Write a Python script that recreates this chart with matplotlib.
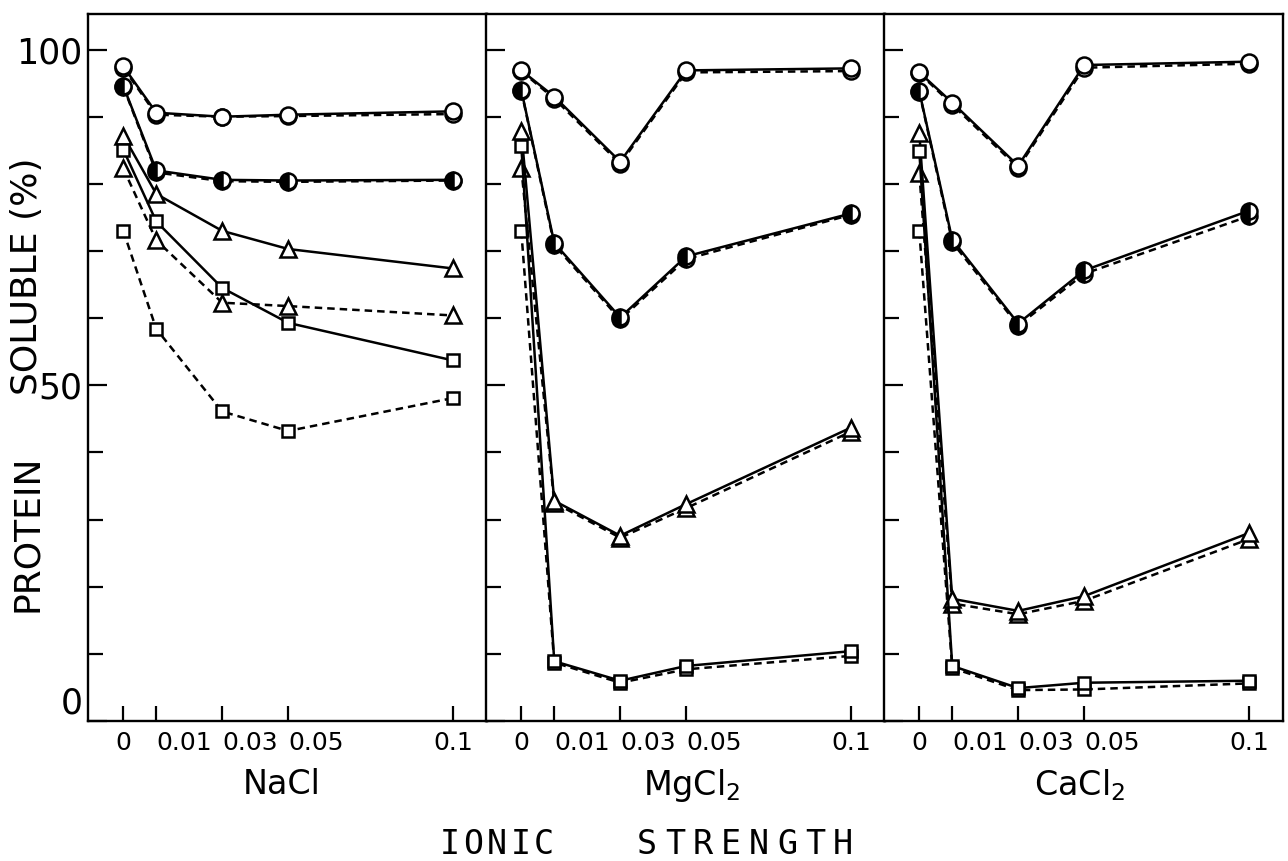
import matplotlib.pyplot as plt

# ionic strength values on the x axis
ionic = [0, 0.01, 0.03, 0.05, 0.1]
tick_text = ["0", "0.01", "0.03", "0.05", "0.1"]
salts = ["NaCl", "MgCl$_2$", "CaCl$_2$"]

# NaCl panel (solid / dashed curves)
nacl_open_solid = [97.5, 90.6, 90.0, 90.3, 90.8]
nacl_open_dash = [97.3, 90.3, 90.0, 90.1, 90.4]
nacl_half_solid = [94.6, 82.0, 80.6, 80.5, 80.6]
nacl_half_dash = [94.5, 81.7, 80.4, 80.3, 80.5]
nacl_tri_solid = [87.2, 78.5, 73.0, 70.3, 67.4]
nacl_tri_dash = [82.3, 71.6, 62.3, 61.8, 60.4]
nacl_sq_solid = [85.1, 74.4, 64.5, 59.3, 53.7]
nacl_sq_dash = [73.0, 58.4, 46.1, 43.2, 48.1]

# MgCl2 panel
mg_open_solid = [96.9, 93.0, 83.3, 96.9, 97.2]
mg_open_dash = [96.8, 92.7, 83.0, 96.6, 96.8]
mg_half_solid = [94.0, 71.2, 60.1, 69.2, 75.6]
mg_half_dash = [93.9, 70.9, 59.8, 68.8, 75.4]
mg_tri_solid = [87.9, 32.8, 27.6, 32.3, 43.7]
mg_tri_dash = [82.4, 32.5, 27.3, 31.7, 43.1]
mg_sq_solid = [85.7, 8.9, 6.0, 8.2, 10.4]
mg_sq_dash = [73.0, 8.7, 5.7, 7.7, 9.7]

# CaCl2 panel
ca_open_solid = [96.6, 92.1, 82.7, 97.7, 98.2]
ca_open_dash = [96.5, 91.8, 82.4, 97.3, 97.9]
ca_half_solid = [93.8, 71.7, 59.2, 67.1, 76.0]
ca_half_dash = [93.7, 71.3, 58.9, 66.6, 75.2]
ca_tri_solid = [87.6, 18.2, 16.4, 18.6, 28.0]
ca_tri_dash = [81.6, 17.5, 15.9, 17.9, 27.1]
ca_sq_solid = [84.9, 8.2, 4.9, 5.7, 6.0]
ca_sq_dash = [73.0, 7.9, 4.6, 4.7, 5.6]

panels = [
    [nacl_open_solid, nacl_open_dash, nacl_half_solid, nacl_half_dash,
     nacl_tri_solid, nacl_tri_dash, nacl_sq_solid, nacl_sq_dash],
    [mg_open_solid, mg_open_dash, mg_half_solid, mg_half_dash,
     mg_tri_solid, mg_tri_dash, mg_sq_solid, mg_sq_dash],
    [ca_open_solid, ca_open_dash, ca_half_solid, ca_half_dash,
     ca_tri_solid, ca_tri_dash, ca_sq_solid, ca_sq_dash],
]

narrow = ["Liberation Sans Narrow", "DejaVu Sans"]

W, H = 1288, 861
fig = plt.figure(figsize=(W / 100, H / 100), dpi=100)

lefts = [88, 486, 884]
bottom_px, top_px, width_px = 721, 14, 399

marker_styles = [
    dict(marker="o", markersize=11.5, markerfacecolor="white"),
    dict(marker="o", markersize=11.5, markerfacecolor="black",
         markerfacecoloralt="white", fillstyle="left"),
    dict(marker="^", markersize=11.5, markerfacecolor="white"),
    dict(marker="s", markersize=9, markerfacecolor="white"),
]

for i, series in enumerate(panels):
    ax = fig.add_axes([lefts[i] / W, 1 - bottom_px / H, width_px / W,
                       (bottom_px - top_px) / H])
    for k, vals in enumerate(series):
        style = marker_styles[k // 2]
        ls = "-" if k % 2 == 0 else (0, (3, 2))
        ax.plot(ionic, vals, color="black", lw=1.8, linestyle=ls,
                markeredgecolor="black", markeredgewidth=1.8,
                zorder=3 if k % 2 == 0 else 2, **style)

    ax.set_xlim(-0.0107, 0.1103)
    ax.set_ylim(0, 105.3)
    ax.set_yticks([0, 50, 100])
    ax.set_yticks(range(10, 100, 10), minor=True)
    ax.tick_params(axis="x", direction="in", length=11, width=1.6, pad=7)
    ax.tick_params(axis="y", which="major", direction="in", length=14,
                   width=1.6, pad=4)
    ax.tick_params(axis="y", which="minor", direction="in", length=11,
                   width=1.6)

    ylabels = ax.set_yticklabels(["0", "50", "100"], family=narrow, fontsize=25)
    # the 0 label sits a little above the axis in the original
    ylabels[0].set_va("bottom")
    ax.set_xticks(ionic)
    labels = ax.set_xticklabels(tick_text, family=narrow, fontsize=18)
    for lab in labels:
        if lab.get_text() in ("0.01", "0.03", "0.05"):
            lab.set_ha("left")

    if i > 0:
        ax.tick_params(axis="y", which="both", labelleft=False)
    for sp in ax.spines.values():
        sp.set_linewidth(1.7)

# salt names under each panel
salt_x = [282, 692, 1080]
for name, xc in zip(salts, salt_x):
    fig.text(xc / W, 1 - 785 / H, name, ha="center", va="center",
             fontsize=24, family="DejaVu Sans")

# y label, drawn in two pieces
fig.text(27 / W, 1 - 533 / H, "PROTEIN", rotation=90, ha="center",
         va="center", fontsize=26)
fig.text(27 / W, 1 - 276 / H, "SOLUBLE (%)", rotation=90, ha="center",
         va="center", fontsize=26)


# common x label with wide letter spacing
def spaced_text(word, x0, x1, y):
    pitch = (x1 - x0) / len(word)
    for j, ch in enumerate(word):
        fig.text((x0 + pitch * (j + 0.5)) / W, 1 - y / H, ch, ha="center",
                 va="center", fontsize=24, family="DejaVu Sans Mono")


spaced_text("IONIC", 438, 556, 845)
spaced_text("STRENGTH", 633, 857, 845)

fig.savefig("out.png", dpi=100)
